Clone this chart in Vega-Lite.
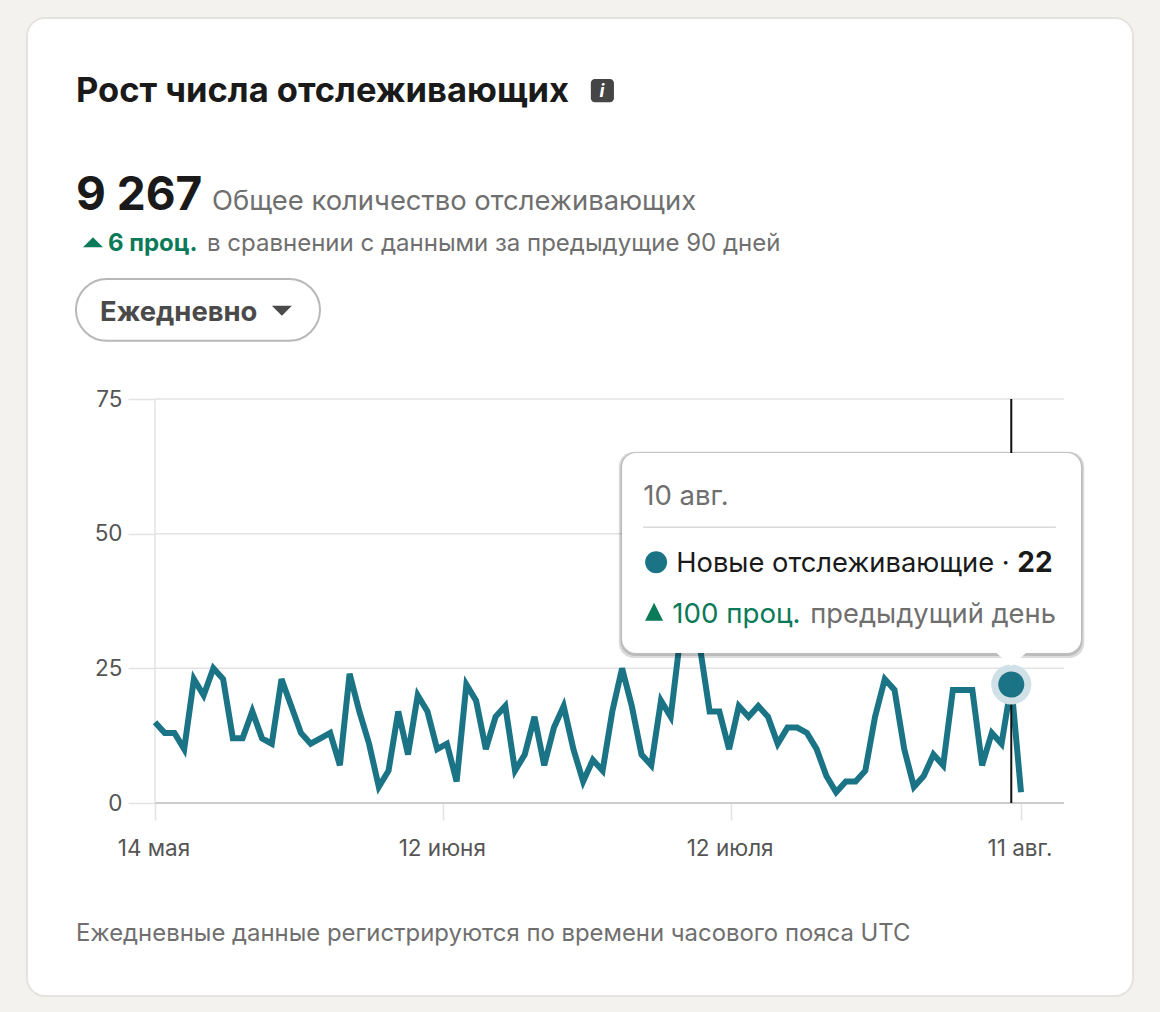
{
  "$schema": "https://vega.github.io/schema/vega-lite/v6.json",
  "width": 1106,
  "height": 978,
  "autosize": "none",
  "padding": {"left": 27, "top": 18, "right": 27, "bottom": 16},
  "background": "#f3f2ee",
  "view": {"fill": "#ffffff", "stroke": "#e4e3df", "strokeWidth": 2, "cornerRadius": 18},
  "config": {"font": "Inter", "text": {"font": "Inter"}},
  "title": {
    "text": "Рост числа отслеживающих",
    "anchor": "start",
    "frame": "group",
    "font": "Inter",
    "fontSize": 34.5,
    "fontWeight": "bold",
    "color": "#1a1a1a",
    "baseline": "alphabetic",
    "dx": 49,
    "offset": -118
  },
  "data": {"name": "series", "values": [
    {"date": "2023-05-14", "value": 15}, {"date": "2023-05-15", "value": 13}, {"date": "2023-05-16", "value": 13},
    {"date": "2023-05-17", "value": 10}, {"date": "2023-05-18", "value": 23}, {"date": "2023-05-19", "value": 20},
    {"date": "2023-05-20", "value": 25}, {"date": "2023-05-21", "value": 23}, {"date": "2023-05-22", "value": 12},
    {"date": "2023-05-23", "value": 12}, {"date": "2023-05-24", "value": 17}, {"date": "2023-05-25", "value": 12},
    {"date": "2023-05-26", "value": 11}, {"date": "2023-05-27", "value": 23}, {"date": "2023-05-28", "value": 18},
    {"date": "2023-05-29", "value": 13}, {"date": "2023-05-30", "value": 11}, {"date": "2023-05-31", "value": 12},
    {"date": "2023-06-01", "value": 13}, {"date": "2023-06-02", "value": 7}, {"date": "2023-06-03", "value": 24},
    {"date": "2023-06-04", "value": 17}, {"date": "2023-06-05", "value": 11}, {"date": "2023-06-06", "value": 3},
    {"date": "2023-06-07", "value": 6}, {"date": "2023-06-08", "value": 17}, {"date": "2023-06-09", "value": 9},
    {"date": "2023-06-10", "value": 20}, {"date": "2023-06-11", "value": 17}, {"date": "2023-06-12", "value": 10},
    {"date": "2023-06-13", "value": 11}, {"date": "2023-06-14", "value": 4}, {"date": "2023-06-15", "value": 22},
    {"date": "2023-06-16", "value": 19}, {"date": "2023-06-17", "value": 10}, {"date": "2023-06-18", "value": 16},
    {"date": "2023-06-19", "value": 18}, {"date": "2023-06-20", "value": 6}, {"date": "2023-06-21", "value": 9},
    {"date": "2023-06-22", "value": 16}, {"date": "2023-06-23", "value": 7}, {"date": "2023-06-24", "value": 14},
    {"date": "2023-06-25", "value": 18}, {"date": "2023-06-26", "value": 10}, {"date": "2023-06-27", "value": 4},
    {"date": "2023-06-28", "value": 8}, {"date": "2023-06-29", "value": 6}, {"date": "2023-06-30", "value": 17},
    {"date": "2023-07-01", "value": 25}, {"date": "2023-07-02", "value": 18}, {"date": "2023-07-03", "value": 9},
    {"date": "2023-07-04", "value": 7}, {"date": "2023-07-05", "value": 19}, {"date": "2023-07-06", "value": 16},
    {"date": "2023-07-07", "value": 31}, {"date": "2023-07-08", "value": 34}, {"date": "2023-07-09", "value": 29},
    {"date": "2023-07-10", "value": 17}, {"date": "2023-07-11", "value": 17}, {"date": "2023-07-12", "value": 10},
    {"date": "2023-07-13", "value": 18}, {"date": "2023-07-14", "value": 16}, {"date": "2023-07-15", "value": 18},
    {"date": "2023-07-16", "value": 16}, {"date": "2023-07-17", "value": 11}, {"date": "2023-07-18", "value": 14},
    {"date": "2023-07-19", "value": 14}, {"date": "2023-07-20", "value": 13}, {"date": "2023-07-21", "value": 10},
    {"date": "2023-07-22", "value": 5}, {"date": "2023-07-23", "value": 2}, {"date": "2023-07-24", "value": 4},
    {"date": "2023-07-25", "value": 4}, {"date": "2023-07-26", "value": 6}, {"date": "2023-07-27", "value": 16},
    {"date": "2023-07-28", "value": 23}, {"date": "2023-07-29", "value": 21}, {"date": "2023-07-30", "value": 10},
    {"date": "2023-07-31", "value": 3}, {"date": "2023-08-01", "value": 5}, {"date": "2023-08-02", "value": 9},
    {"date": "2023-08-03", "value": 7}, {"date": "2023-08-04", "value": 21}, {"date": "2023-08-05", "value": 21},
    {"date": "2023-08-06", "value": 21}, {"date": "2023-08-07", "value": 7}, {"date": "2023-08-08", "value": 13},
    {"date": "2023-08-09", "value": 11}, {"date": "2023-08-10", "value": 22}, {"date": "2023-08-11", "value": 2}
  ]},
  "encoding": {
    "x": {
      "field": "date",
      "type": "temporal",
      "title": null,
      "scale": {
        "type": "utc",
        "domain": [
          {"year": 2023, "month": 5, "date": 14, "utc": true},
          {"year": 2023, "month": 8, "date": 11, "utc": true}
        ],
        "range": [128, 994]
      },
      "axis": {
        "orient": "bottom",
        "offset": -193,
        "domain": false,
        "grid": false,
        "values": [
          {"year": 2023, "month": 5, "date": 14, "utc": true},
          {"year": 2023, "month": 6, "date": 12, "hours": 15, "utc": true},
          {"year": 2023, "month": 7, "date": 12, "hours": 5, "utc": true},
          {"year": 2023, "month": 8, "date": 11, "utc": true}
        ],
        "labelExpr": "utcmonth(datum.value) == 4 ? '14 мая' : utcmonth(datum.value) == 5 ? '12 июня' : utcmonth(datum.value) == 6 ? '12 июля' : '11 авг.'",
        "labelFont": "Inter",
        "labelFontSize": 22.5,
        "labelColor": "#555555",
        "labelPadding": 17,
        "labelOffset": -1.5,
        "labelFlush": false,
        "labelOverlap": false,
        "tickSize": 17,
        "tickColor": "#e3e3e3",
        "tickWidth": 1.5
      }
    },
    "y": {
      "field": "value",
      "type": "quantitative",
      "title": null,
      "scale": {"domain": [0, 75], "range": [785, 381], "nice": false},
      "axis": {
        "orient": "left",
        "offset": -128,
        "domain": false,
        "grid": false,
        "values": [0, 25, 50, 75],
        "labelFont": "Inter",
        "labelFontSize": 22.5,
        "labelColor": "#555555",
        "labelPadding": 6,
        "tickSize": 27,
        "tickColor": "#e3e3e3",
        "tickWidth": 1.5
      }
    }
  },
  "layer": [
    {
      "data": {"values": [
        {"date": "2023-05-14", "date_end": "2023-08-15T10:00:00Z", "value": 25},
        {"date": "2023-05-14", "date_end": "2023-08-15T10:00:00Z", "value": 50},
        {"date": "2023-05-14", "date_end": "2023-08-15T10:00:00Z", "value": 75}
      ]},
      "mark": {"type": "rule", "color": "#e3e3e3", "strokeWidth": 1.5},
      "encoding": {"x2": {"field": "date_end"}}
    },
    {
      "data": {"values": [{"date": "2023-05-14", "date_end": "2023-08-15T10:00:00Z", "value": 0}]},
      "mark": {"type": "rule", "color": "#cccccc", "strokeWidth": 2},
      "encoding": {"x2": {"field": "date_end"}}
    },
    {
      "data": {"values": [{"date": "2023-05-14", "value": 0, "value_end": 75}]},
      "mark": {"type": "rule", "color": "#e3e3e3", "strokeWidth": 1.5},
      "encoding": {"y2": {"field": "value_end"}}
    },
    {
      "mark": {"type": "line", "color": "#1b7486", "strokeWidth": 6, "strokeJoin": "miter", "strokeCap": "butt"}
    },
    {
      "data": {"values": [{"date": "2023-08-10", "value": 0, "value_end": 75}]},
      "mark": {"type": "rule", "color": "#111111", "strokeWidth": 2},
      "encoding": {"y2": {"field": "value_end"}}
    },
    {
      "data": {"values": [{"date": "2023-08-10", "value": 22}]},
      "mark": {"type": "point", "filled": true, "shape": "circle", "size": 1600, "color": "#cfe0e6", "opacity": 1}
    },
    {
      "data": {"values": [{"date": "2023-08-10", "value": 22}]},
      "mark": {"type": "point", "filled": true, "shape": "circle", "size": 676, "color": "#1b7486", "opacity": 1}
    },
    {
      "data": {"values": [
        {"date": "2023-06-30T16:00:00Z", "date_end": "2023-08-17T12:00:00Z", "value": 65.2, "value_end": 26.9},
        {"date": "2023-06-30T20:00:00Z", "date_end": "2023-08-17T08:00:00Z", "value": 65.1, "value_end": 27.3}
      ]},
      "mark": {"type": "rect", "color": "#000000", "opacity": 0.14, "cornerRadius": 15},
      "encoding": {"x2": {"field": "date_end"}, "y2": {"field": "value_end"}}
    },
    {
      "data": {"values": [{"date": "2023-07-01", "date_end": "2023-08-17T04:00:00Z", "value": 64.97, "value_end": 27.85}]},
      "mark": {"type": "rect", "color": "#ffffff", "cornerRadius": 14},
      "encoding": {"x2": {"field": "date_end"}, "y2": {"field": "value_end"}}
    },
    {
      "data": {"values": [{"date": "2023-08-10", "value": 27.9}]},
      "mark": {"type": "point", "filled": true, "shape": "M-0.5,0L0.5,0L0,0.45Z", "size": 3600, "color": "#ffffff", "opacity": 1}
    },
    {
      "data": {"values": [{"date": "2023-07-03T04:00:00Z", "date_end": "2023-08-14T14:00:00Z", "value": 51.2}]},
      "mark": {"type": "rule", "color": "#d9d9d9", "strokeWidth": 1.5},
      "encoding": {"x2": {"field": "date_end"}}
    },
    {
      "data": {"values": [{"date": "2023-07-04T12:00:00Z", "value": 44.7}]},
      "mark": {"type": "point", "filled": true, "shape": "circle", "size": 484, "color": "#1b7486", "opacity": 1}
    },
    {
      "data": {"values": [{"date": "2023-07-04T07:00:00Z", "value": 35.5}]},
      "mark": {"type": "point", "filled": true, "shape": "M-0.5,0.5L0.5,0.5L0,-0.5Z", "size": 1296, "color": "#0b7a58", "opacity": 1}
    },
    {
      "data": {"values": [{"label": "10 авг.", "date": "2023-08-10", "value": 22}]},
      "mark": {"type": "text", "align": "left", "baseline": "alphabetic", "fontSize": 27.5, "color": "#6f6f6f", "dx": -368, "dy": -179},
      "encoding": {"text": {"field": "label"}}
    },
    {
      "data": {"values": [{"label": "Новые отслеживающие ·", "date": "2023-08-10", "value": 22}]},
      "mark": {"type": "text", "align": "left", "baseline": "alphabetic", "fontSize": 27.3, "color": "#1a1a1a", "dx": -335, "dy": -112},
      "encoding": {"text": {"field": "label"}}
    },
    {
      "data": {"values": [{"label": "22", "date": "2023-08-10", "value": 22}]},
      "mark": {"type": "text", "align": "left", "baseline": "alphabetic", "fontSize": 28, "fontWeight": "bold", "color": "#1a1a1a", "dx": 6, "dy": -112},
      "encoding": {"text": {"field": "label"}}
    },
    {
      "data": {"values": [{"label": "100 проц.", "date": "2023-08-10", "value": 22}]},
      "mark": {"type": "text", "align": "left", "baseline": "alphabetic", "fontSize": 27.7, "color": "#0b7a58", "dx": -339, "dy": -61},
      "encoding": {"text": {"field": "label"}}
    },
    {
      "data": {"values": [{"label": "предыдущий день", "date": "2023-08-10", "value": 22}]},
      "mark": {"type": "text", "align": "left", "baseline": "alphabetic", "fontSize": 27.3, "color": "#6f6f6f", "dx": -201, "dy": -61},
      "encoding": {"text": {"field": "label"}}
    },
    {
      "data": {"values": [{"date": "2023-06-27T19:00:00Z", "date_end": "2023-06-30T04:00:00Z", "value": 134.4, "value_end": 130.1}]},
      "mark": {"type": "rect", "color": "#454545", "cornerRadius": 4},
      "encoding": {"x2": {"field": "date_end"}, "y2": {"field": "value_end"}}
    },
    {
      "data": {"values": [{"label": "i", "date": "2023-05-14", "value": 75}]},
      "mark": {"type": "text", "align": "center", "baseline": "alphabetic", "fontSize": 18, "fontWeight": "bold", "fontStyle": "italic", "color": "#ffffff", "dx": 447, "dy": -302},
      "encoding": {"text": {"field": "label"}}
    },
    {
      "data": {"values": [{"label": "9 267", "date": "2023-05-14", "value": 75}]},
      "mark": {"type": "text", "align": "left", "baseline": "alphabetic", "fontSize": 46, "fontWeight": "bold", "color": "#1a1a1a", "dx": -79, "dy": -189},
      "encoding": {"text": {"field": "label"}}
    },
    {
      "data": {"values": [{"label": "Общее количество отслеживающих", "date": "2023-05-14", "value": 75}]},
      "mark": {"type": "text", "align": "left", "baseline": "alphabetic", "fontSize": 27.4, "color": "#6f6f6f", "dx": 57, "dy": -189},
      "encoding": {"text": {"field": "label"}}
    },
    {
      "data": {"values": [{"date": "2023-05-07T15:00:00Z", "value": 104.1}]},
      "mark": {"type": "point", "filled": true, "shape": "M-0.5,0.25L0.5,0.25L0,-0.25Z", "size": 1600, "color": "#0b7a58", "opacity": 1}
    },
    {
      "data": {"values": [{"label": "6 проц.", "date": "2023-05-14", "value": 75}]},
      "mark": {"type": "text", "align": "left", "baseline": "alphabetic", "fontSize": 24, "fontWeight": "bold", "color": "#0b7a58", "dx": -47, "dy": -148},
      "encoding": {"text": {"field": "label"}}
    },
    {
      "data": {"values": [{"label": "в сравнении с данными за предыдущие 90 дней", "date": "2023-05-14", "value": 75}]},
      "mark": {"type": "text", "align": "left", "baseline": "alphabetic", "fontSize": 24, "color": "#6f6f6f", "dx": 52, "dy": -148},
      "encoding": {"text": {"field": "label"}}
    },
    {
      "data": {"values": [{"date": "2023-05-05T21:00:00Z", "date_end": "2023-05-30T23:00:00Z", "value": 97.3, "value_end": 85.8}]},
      "mark": {"type": "rect", "fill": "#ffffff", "stroke": "#b8b8b8", "strokeWidth": 2, "cornerRadius": 31},
      "encoding": {"x2": {"field": "date_end"}, "y2": {"field": "value_end"}}
    },
    {
      "data": {"values": [{"label": "Ежедневно", "date": "2023-05-14", "value": 75}]},
      "mark": {"type": "text", "align": "left", "baseline": "alphabetic", "fontSize": 27.4, "fontWeight": "bold", "color": "#4a4a4a", "dx": -55, "dy": -78},
      "encoding": {"text": {"field": "label"}}
    },
    {
      "data": {"values": [{"date": "2023-05-27T01:00:00Z", "value": 91.4}]},
      "mark": {"type": "point", "filled": true, "shape": "M-0.5,-0.25L0.5,-0.25L0,0.25Z", "size": 1600, "color": "#4a4a4a", "opacity": 1}
    },
    {
      "data": {"values": [{"label": "Ежедневные данные регистрируются по времени часового пояса UTC", "date": "2023-05-14", "value": 0}]},
      "mark": {"type": "text", "align": "left", "baseline": "alphabetic", "fontSize": 23.9, "color": "#6f6f6f", "dx": -79, "dy": 138},
      "encoding": {"text": {"field": "label"}}
    }
  ]
}
